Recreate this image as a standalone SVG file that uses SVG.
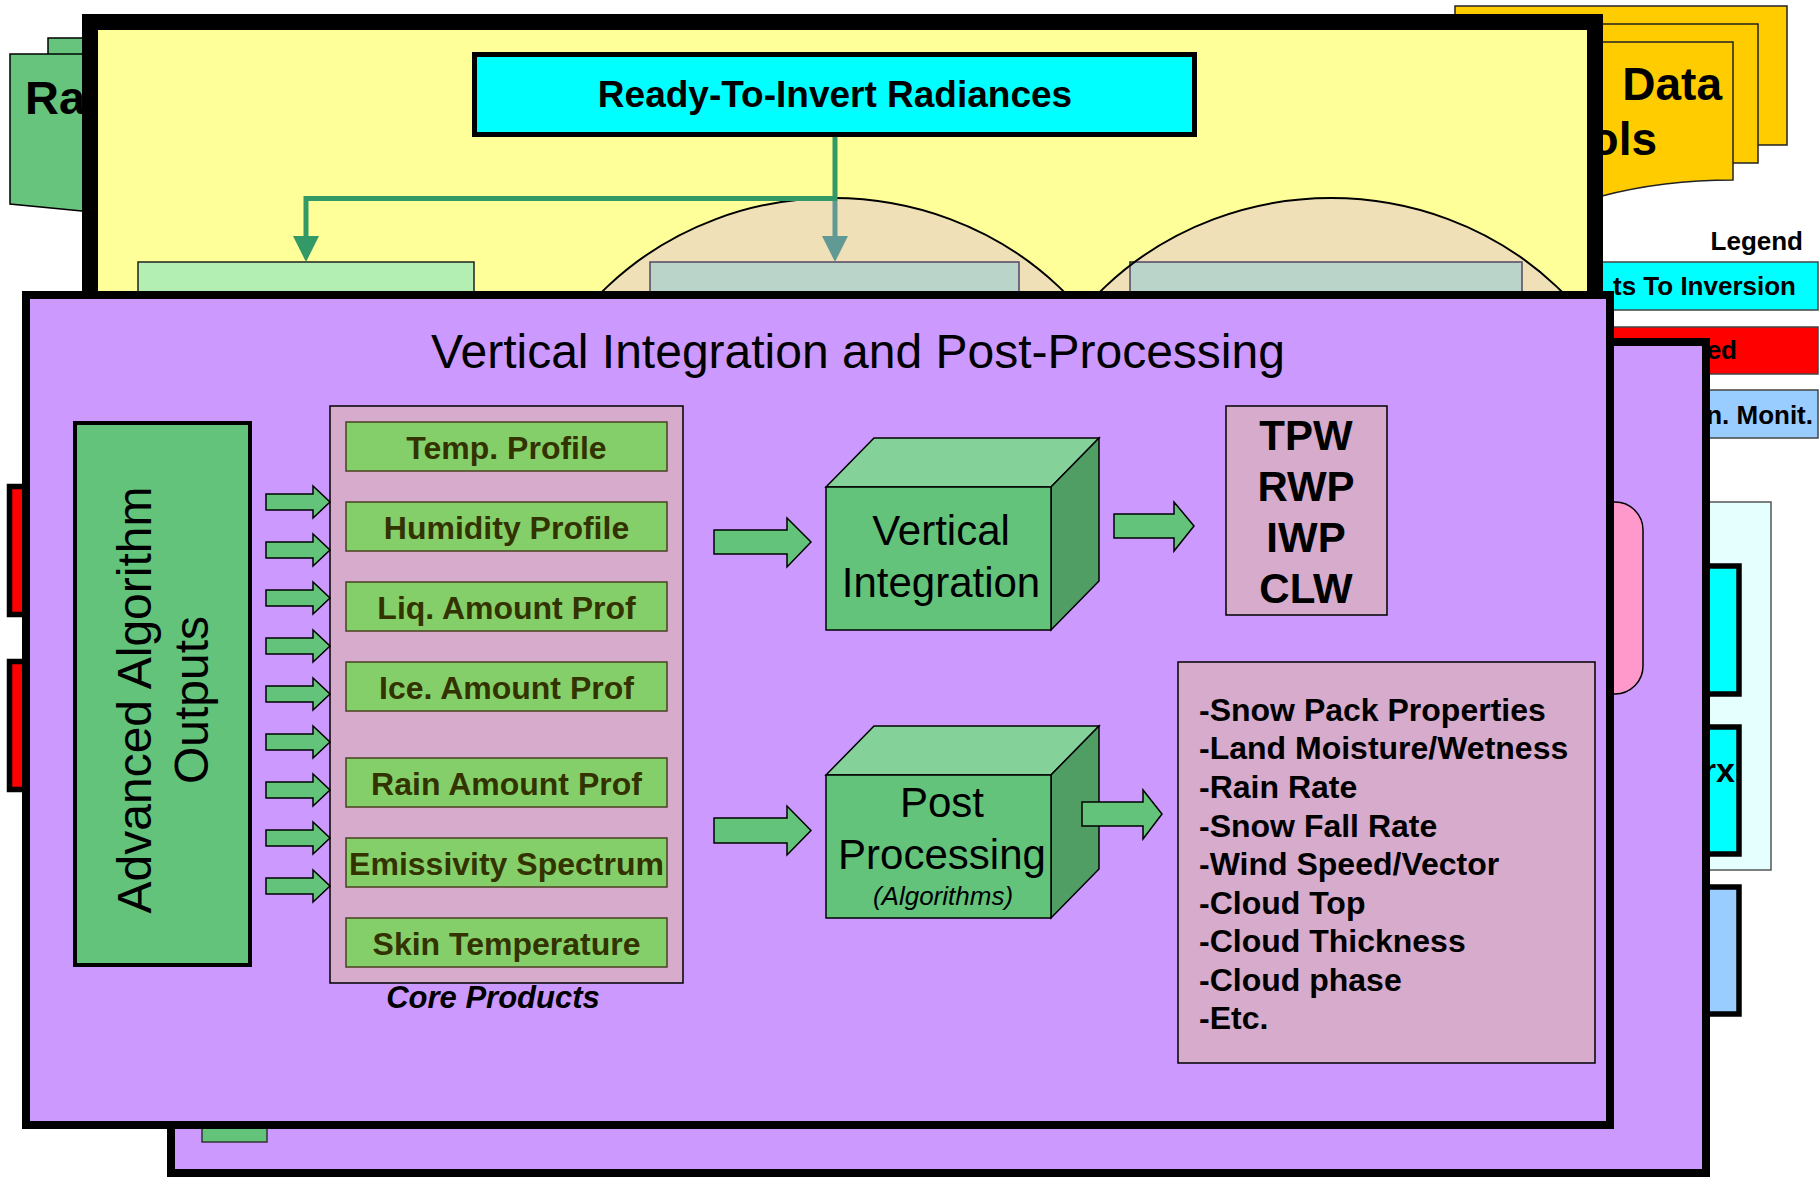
<svg xmlns="http://www.w3.org/2000/svg" width="1819" height="1177" viewBox="0 0 1819 1177">
<defs>
<style>
text{font-family:"Liberation Sans",Arial,Helvetica,sans-serif;fill:#000}
.b{font-weight:bold}
.doc-g{fill:#66C47D;stroke:#000;stroke-width:1.5}
.doc-y{fill:#FFCC00;stroke:#222;stroke-width:1.5}
.leg{stroke:#444;stroke-width:1.5}
.tab{stroke:#000;stroke-width:5.5}
.lg{fill:#B3EEB3;stroke:#222;stroke-width:1.5}
.ell{fill:#CC99FF;fill-opacity:0.3;stroke:#000;stroke-width:2}
.panel{fill:#CC99FF;stroke:#000;stroke-width:8}
.pinkbox{fill:#D6ABCB;stroke:#000;stroke-width:1.5}
.item{fill:#85CF6A;stroke:#4A4020;stroke-width:1.5}
.itxt{font-weight:bold;font-size:32px;fill:#333300;text-anchor:middle}
.front{fill:#63C37B;stroke:#000;stroke-width:1.5}
.top{fill:#84D199;stroke:#000;stroke-width:1.5}
.side{fill:#519E64;stroke:#000;stroke-width:1.5}
.blk{fill:#63C37B;stroke:#000;stroke-width:1.5}
.line{fill:none;stroke:#339966;stroke-width:5}
.lmute{fill:none;stroke:#619994;stroke-width:5}
.lst{font-weight:bold;font-size:32px}
.cube{font-size:42px;text-anchor:middle}
</style>
<clipPath id="yclip"><rect x="98" y="30" width="1489" height="262"/></clipPath>
</defs>
<rect width="1819" height="1177" fill="#fff"/>

<g id="raw-data-docs">
<rect class="doc-g" x="48" y="38" width="120" height="150"/>
<path class="doc-g" d="M10 54 H160 V220 L82 211 L10 204 Z"/>
<text x="25" y="114" class="b" font-size="47">Ra</text>
</g>

<g id="data-tools-docs">
<rect class="doc-y" x="1455" y="6" width="332" height="139"/>
<rect class="doc-y" x="1430" y="24" width="328" height="139"/>
<path class="doc-y" d="M1400 42 H1733 V180 C1680 180 1640 186 1602 196 L1400 215 Z"/>
<text x="1722" y="100" text-anchor="end" class="b" font-size="46">Data</text>
<text x="1657" y="155" text-anchor="end" class="b" font-size="46">ols</text>
</g>

<g id="legend">
<text x="1803" y="250" text-anchor="end" class="b" font-size="26">Legend</text>
<rect class="leg" x="1500" y="262" width="318" height="48" fill="#00FFFF"/>
<text x="1796" y="295" text-anchor="end" class="b" font-size="26">ts To Inversion</text>
<rect class="leg" x="1500" y="327" width="318" height="47" fill="#FF0000"/>
<text x="1737" y="359" text-anchor="end" class="b" font-size="26">ed</text>
<rect class="leg" x="1500" y="390" width="318" height="48" fill="#99CCFF"/>
<text x="1813" y="424" text-anchor="end" class="b" font-size="26">n. Monit.</text>
</g>

<g id="right-stack">
<rect x="1690" y="502" width="81" height="368" fill="#E5FFFF" stroke="#555" stroke-width="1.5"/>
<rect class="tab" x="1680" y="566" width="59" height="128" fill="#00FFFF"/>
<rect class="tab" x="1680" y="727" width="59" height="127" fill="#00FFFF"/>
<text x="1735" y="782" text-anchor="end" class="b" font-size="34">rx</text>
<rect class="tab" x="1680" y="887" width="59" height="127" fill="#99CCFF"/>
</g>

<g id="left-tabs">
<rect class="tab" x="9.5" y="486.5" width="40" height="128" fill="#FF0000"/>
<rect class="tab" x="9.5" y="661.5" width="40" height="128" fill="#FF0000"/>
</g>

<g id="inversion-panel">
<rect x="90" y="22" width="1505" height="400" fill="#FFFF99" stroke="#000" stroke-width="16"/>
<rect class="lg" x="138" y="262" width="336" height="60"/>
<rect class="lg" x="650" y="262" width="369" height="60"/>
<rect class="lg" x="1130" y="262" width="392" height="60"/>
<g clip-path="url(#yclip)">
<ellipse class="ell" cx="833" cy="498" rx="318" ry="300"/>
<ellipse class="ell" cx="1331" cy="498" rx="318" ry="300"/>
</g>
</g>

<g id="ready-to-invert">
<rect x="474.5" y="54.5" width="720" height="80" fill="#00FFFF" stroke="#000" stroke-width="5"/>
<text x="835" y="107" text-anchor="middle" class="b" font-size="37">Ready-To-Invert Radiances</text>
</g>

<g id="back-panel">
<rect class="panel" x="171" y="342" width="1535" height="831"/>
</g>

<g id="between-panels">
<path d="M1590 502 H1615 A28 28 0 0 1 1643 530 V666 A28 28 0 0 1 1615 694 H1590 Z" fill="#FF99CC" stroke="#000" stroke-width="1.5"/>
<rect x="202" y="1110" width="65" height="32" fill="#63C37B" stroke="#333" stroke-width="1.5"/>
</g>

<g id="post-processing-panel">
<rect class="panel" x="26" y="295" width="1584" height="830"/>
<text x="858" y="368" text-anchor="middle" font-size="48">Vertical Integration and Post-Processing</text>
</g>

<g id="advanced-outputs">
<rect x="75" y="423" width="175" height="542" fill="#63C37B" stroke="#000" stroke-width="4"/>
<g transform="translate(151,700) rotate(-90)">
<text x="0" y="0" text-anchor="middle" font-size="48">Advanced Algorithm</text>
<text x="0" y="57" text-anchor="middle" font-size="48">Outputs</text>
</g>
</g>

<g id="core-products">
<rect class="pinkbox" x="330" y="406" width="353" height="577"/>
<rect class="item" x="346" y="422" width="321" height="49"/>
<text class="itxt" x="506.5" y="459">Temp. Profile</text>
<rect class="item" x="346" y="502" width="321" height="49"/>
<text class="itxt" x="506.5" y="539">Humidity Profile</text>
<rect class="item" x="346" y="582" width="321" height="49"/>
<text class="itxt" x="506.5" y="619">Liq. Amount Prof</text>
<rect class="item" x="346" y="662" width="321" height="49"/>
<text class="itxt" x="506.5" y="699">Ice. Amount Prof</text>
<rect class="item" x="346" y="758" width="321" height="49"/>
<text class="itxt" x="506.5" y="795">Rain Amount Prof</text>
<rect class="item" x="346" y="838" width="321" height="49"/>
<text class="itxt" x="506.5" y="875">Emissivity Spectrum</text>
<rect class="item" x="346" y="918" width="321" height="49"/>
<text class="itxt" x="506.5" y="955">Skin Temperature</text>
<text x="493" y="1008" text-anchor="middle" font-size="31" font-weight="bold" font-style="italic">Core Products</text>
</g>

<g id="vertical-integration">
<polygon class="top" points="826,487 874,438 1099,438 1051,487"/>
<polygon class="side" points="1051,487 1099,438 1099,581 1051,630"/>
<rect class="front" x="826" y="487" width="225" height="143"/>
<text class="cube" x="941" y="545">Vertical</text>
<text class="cube" x="941" y="597">Integration</text>
</g>

<g id="post-processing">
<polygon class="top" points="826,775 874,726 1099,726 1051,775"/>
<polygon class="side" points="1051,775 1099,726 1099,869 1051,918"/>
<rect class="front" x="826" y="775" width="225" height="143"/>
<text class="cube" x="942" y="817">Post</text>
<text class="cube" x="942" y="869">Processing</text>
<text x="943" y="905" text-anchor="middle" font-size="26" font-style="italic">(Algorithms)</text>
</g>

<g id="integrated-products">
<rect class="pinkbox" x="1226" y="406" width="161" height="209"/>
<text x="1306" y="450" text-anchor="middle" class="b" font-size="42">TPW</text>
<text x="1306" y="501" text-anchor="middle" class="b" font-size="42">RWP</text>
<text x="1306" y="552" text-anchor="middle" class="b" font-size="42">IWP</text>
<text x="1306" y="603" text-anchor="middle" class="b" font-size="42">CLW</text>
</g>

<g id="derived-products">
<rect class="pinkbox" x="1178" y="662" width="417" height="401"/>
<text class="lst" x="1199" y="721">-Snow Pack Properties</text>
<text class="lst" x="1199" y="759">-Land Moisture/Wetness</text>
<text class="lst" x="1199" y="798">-Rain Rate</text>
<text class="lst" x="1199" y="836.5">-Snow Fall Rate</text>
<text class="lst" x="1199" y="875">-Wind Speed/Vector</text>
<text class="lst" x="1199" y="913.5">-Cloud Top</text>
<text class="lst" x="1199" y="952">-Cloud Thickness</text>
<text class="lst" x="1199" y="990.5">-Cloud phase</text>
<text class="lst" x="1199" y="1029">-Etc.</text>
</g>

<g id="connectors">
<path class="line" d="M835 137 V198.5 H306 V240"/>
<polygon points="293,236 319,236 306,262" fill="#339966"/>
<path class="lmute" d="M835 201 V240"/>
<polygon points="822,236 848,236 835,262" fill="#619994"/>
<polygon class="blk" points="266,494 313,494 313,486 330,502 313,518 313,510 266,510"/>
<polygon class="blk" points="266,542 313,542 313,534 330,550 313,566 313,558 266,558"/>
<polygon class="blk" points="266,590 313,590 313,582 330,598 313,614 313,606 266,606"/>
<polygon class="blk" points="266,638 313,638 313,630 330,646 313,662 313,654 266,654"/>
<polygon class="blk" points="266,686 313,686 313,678 330,694 313,710 313,702 266,702"/>
<polygon class="blk" points="266,734 313,734 313,726 330,742 313,758 313,750 266,750"/>
<polygon class="blk" points="266,782 313,782 313,774 330,790 313,806 313,798 266,798"/>
<polygon class="blk" points="266,830 313,830 313,822 330,838 313,854 313,846 266,846"/>
<polygon class="blk" points="266,878 313,878 313,870 330,886 313,902 313,894 266,894"/>
<polygon class="blk" points="714,530 787,530 787,518 811,542 787,567 787,554 714,554"/>
<polygon class="blk" points="714,818 787,818 787,806 811,830.5 787,855 787,843 714,843"/>
<polygon class="blk" points="1114,514 1174,514 1174,502 1194,526 1174,551 1174,538 1114,538"/>
<polygon class="blk" points="1082,802 1143,802 1143,790 1162,814 1143,839 1143,826 1082,826"/>
</g>
</svg>
